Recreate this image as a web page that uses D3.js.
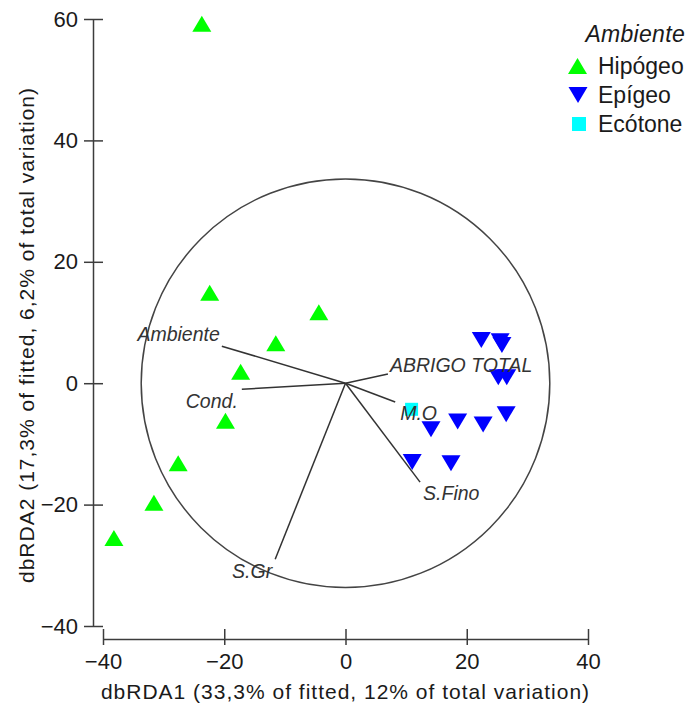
<!DOCTYPE html>
<html>
<head>
<meta charset="utf-8">
<script src="https://cdn.jsdelivr.net/npm/d3@7"></script>
<style>
  body { margin: 0; background: #fff; }
  svg text { font-family: "Liberation Sans", Arial, sans-serif; }
</style>
</head>
<body>
<div id="chart"></div>
<script>
// Data set (dbRDA scores)
let hipogeo = [[-23.7, 59.2], [-22.4, 14.9], [-4.4, 11.7], [-11.5, 6.6], [-17.3, 1.9],
  [-19.8, -6.2], [-27.6, -13.2], [-31.6, -19.7], [-38.2, -25.5]];
let epigeo = [[22.4, 7.1], [25.5, 6.9], [25.8, 6.3], [25.2, 1.0], [26.6, 1.0], [26.5, -5.1],
  [22.7, -6.8], [18.5, -6.3], [14.1, -7.6], [11.0, -13.0], [17.4, -13.2]];
let ecotone = [[10.9, -4.3]];

// Vectors (predictor variables)
let vectorNames = ["Ambiente", "Cond.", "ABRIGO TOTAL", "M.O", "S.Fino", "S.Gr"];
let vectorX = [-20.4, -17.1, 7.0, 8.2, 12.3, -11.6];
let vectorY = [6.1, -1.0, 1.5, -3.1, -16.3, -29.0];
let circleRadius = 33.7;

// Ticks and labels
let xTicks = [-40, -20, 0, 20, 40];
let yTicks = [-40, -20, 0, 20, 40, 60];
let legendTitle = "Ambiente";
let legendNames = ["Hipógeo", "Epígeo", "Ecótone"];
let xTitle = "dbRDA1 (33,3% of fitted, 12% of total variation)";
let yTitle = "dbRDA2 (17,3% of fitted, 6,2% of total variation)";

// label placement next to each vector end [anchor, dx, dy]
let labelPlace = {
  "Ambiente": ["end", -2, -5],
  "Cond.": ["end", -4, 19],
  "ABRIGO TOTAL": ["start", 2, -2],
  "M.O": ["start", 5, 18],
  "S.Fino": ["start", 3, 18],
  "S.Gr": ["end", -3, 19]
};

let axisColor = "#3c3c3c";
let textColor = "#1a1a1a";

let svg = d3.select("#chart").append("svg")
  .attr("width", 690)
  .attr("height", 704);

let x = d3.scaleLinear().domain([-40, 40]).range([103, 588]);
let y = d3.scaleLinear().domain([-40, 60]).range([626, 19]);
let pxPerUnit = x(1) - x(0);

// triangle with its box centred on the point
let triangle = function (w, h, down) {
  let s = down ? -1 : 1;
  return "M0," + (-s * h / 2) + "L" + (w / 2) + "," + (s * h / 2) + "L" + (-w / 2) + "," + (s * h / 2) + "Z";
}

// Y axis
let yAxis = svg.append("g")
  .attr("transform", "translate(93,0)")
  .call(d3.axisLeft(y).tickValues(yTicks).tickSize(9).tickSizeOuter(0).tickPadding(6));
yAxis.selectAll(".tick line").attr("x1", 10);

// X axis
let xAxis = svg.append("g")
  .attr("transform", "translate(0,639)")
  .call(d3.axisBottom(x).tickValues(xTicks).tickSize(6).tickSizeOuter(0).tickPadding(8));
xAxis.selectAll(".tick line").attr("y1", -10);

svg.selectAll(".domain, .tick line")
  .attr("stroke", axisColor)
  .attr("stroke-width", 1.5);
svg.selectAll(".tick text")
  .attr("font-family", "Liberation Sans, Arial, sans-serif")
  .attr("font-size", 22)
  .attr("fill", textColor);

// axis titles
svg.append("text")
  .attr("x", 345.5)
  .attr("y", 699)
  .attr("text-anchor", "middle")
  .attr("font-size", 21)
  .attr("letter-spacing", 1)
  .attr("fill", textColor)
  .text(xTitle);

svg.append("text")
  .attr("transform", "translate(34,335) rotate(-90)")
  .attr("text-anchor", "middle")
  .attr("font-size", 21)
  .attr("letter-spacing", 1)
  .attr("fill", textColor)
  .text(yTitle);

// correlation circle
svg.append("circle")
  .attr("cx", x(0))
  .attr("cy", y(0))
  .attr("r", circleRadius * pxPerUnit)
  .attr("fill", "none")
  .attr("stroke", "#444")
  .attr("stroke-width", 1.5);

// Vectors
let vectors = vectorNames.map(function (d, i) {return {name: d, vx: vectorX[i], vy: vectorY[i]}});

svg.selectAll("line.vec")
  .data(vectors)
  .enter()
  .append("line")
  .attr("class", "vec")
  .attr("x1", x(0))
  .attr("y1", y(0))
  .attr("x2", function (d) {return x(d.vx)})
  .attr("y2", function (d) {return y(d.vy)})
  .attr("stroke", "#333")
  .attr("stroke-width", 1.5);

// Points
svg.selectAll("path.hip")
  .data(hipogeo)
  .enter()
  .append("path")
  .attr("class", "hip")
  .attr("d", triangle(19, 16, false))
  .attr("transform", function (d) {return "translate(" + x(d[0]) + "," + y(d[1]) + ")"})
  .attr("fill", "#00ff00");

svg.selectAll("path.epi")
  .data(epigeo)
  .enter()
  .append("path")
  .attr("class", "epi")
  .attr("d", triangle(19, 16, true))
  .attr("transform", function (d) {return "translate(" + x(d[0]) + "," + y(d[1]) + ")"})
  .attr("fill", "#0000ff");

svg.selectAll("rect.eco")
  .data(ecotone)
  .enter()
  .append("rect")
  .attr("class", "eco")
  .attr("x", function (d) {return x(d[0]) - 6.5})
  .attr("y", function (d) {return y(d[1]) - 6.5})
  .attr("width", 13)
  .attr("height", 13)
  .attr("fill", "#00ffff");

// vector labels (drawn over points)
svg.selectAll("text.vec")
  .data(vectors)
  .enter()
  .append("text")
  .attr("class", "vec")
  .attr("x", function (d) {return x(d.vx) + labelPlace[d.name][1]})
  .attr("y", function (d) {return y(d.vy) + labelPlace[d.name][2]})
  .attr("text-anchor", function (d) {return labelPlace[d.name][0]})
  .attr("font-size", 19.5)
  .attr("font-style", "italic")
  .attr("fill", "#333")
  .text(function (d) {return d.name});

// Legend
let legend = svg.append("g");
legend.append("text")
  .attr("x", 685)
  .attr("y", 42)
  .attr("text-anchor", "end")
  .attr("font-size", 23)
  .attr("letter-spacing", 0.3)
  .attr("font-style", "italic")
  .attr("fill", textColor)
  .text(legendTitle);

let legendY = [66, 95, 124];
legend.append("path")
  .attr("d", triangle(19, 16, false))
  .attr("transform", "translate(577.5," + legendY[0] + ")")
  .attr("fill", "#00ff00");
legend.append("path")
  .attr("d", triangle(19, 16, true))
  .attr("transform", "translate(578," + legendY[1] + ")")
  .attr("fill", "#0000ff");
legend.append("rect")
  .attr("x", 572)
  .attr("y", legendY[2] - 7)
  .attr("width", 14)
  .attr("height", 14)
  .attr("fill", "#00ffff");

legend.selectAll("text.item")
  .data(legendNames)
  .enter()
  .append("text")
  .attr("class", "item")
  .attr("x", 598)
  .attr("y", function (d, i) {return legendY[i] + 8})
  .attr("font-size", 23)
  .attr("fill", textColor)
  .text(function (d) {return d});
</script>
</body>
</html>
